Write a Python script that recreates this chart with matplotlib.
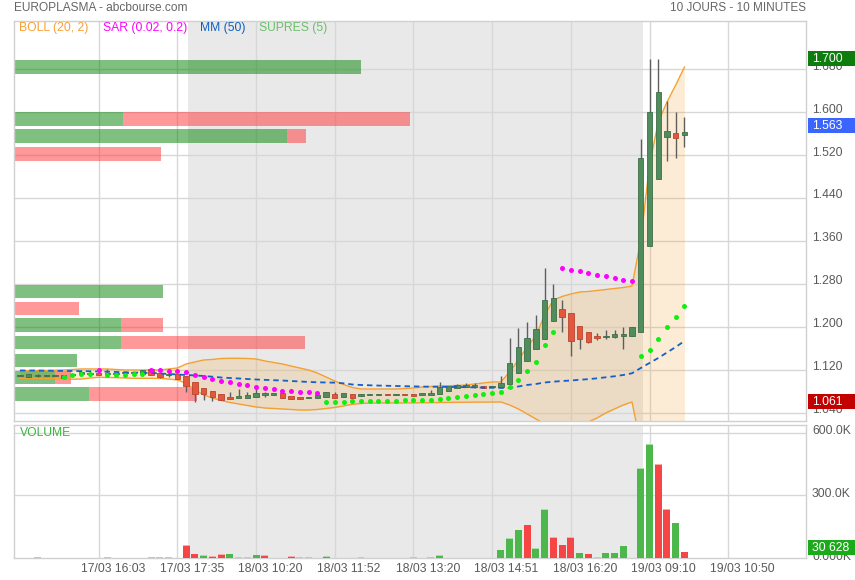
import numpy as np
import matplotlib
matplotlib.use('Agg')
import matplotlib.pyplot as plt
from matplotlib.transforms import blended_transform_factory as blend
from matplotlib.patches import Rectangle

plt.rcParams['font.family'] = ['Liberation Sans', 'DejaVu Sans']

#------------------------------------------------------------------------#
# Data (10 minute candles)
#------------------------------------------------------------------------#
candle_open = [1.109, 1.107, 1.110, 1.109, 1.110, 1.1045, 1.110, 1.1126, 1.114, 1.115,
               1.1139, 1.113, 1.115, 1.115, 1.1126, 1.1213, 1.115, 1.112, 1.1126, 1.1088,
               1.0977, 1.0859, 1.0809, 1.0753, 1.0703, 1.0684, 1.0684, 1.0703, 1.0753, 1.0735,
               1.0766, 1.0722, 1.0692, 1.0673, 1.0684, 1.0703, 1.0748, 1.0703, 1.0748, 1.0716,
               1.0729, 1.0729, 1.0759, 1.0735, 1.0759, 1.0748, 1.0740, 1.0740, 1.0753, 1.0815,
               1.0859, 1.0889, 1.0878, 1.0908, 1.0889, 1.0889, 1.0934, 1.1139, 1.1373, 1.1585,
               1.1772, 1.2118, 1.2336, 1.2261, 1.2014, 1.1908, 1.1839, 1.1809, 1.1809, 1.1833,
               1.1839, 1.1913, 1.3515, 1.4751, 1.5544, 1.5613, 1.5570]
candle_high = [1.110, 1.112, 1.1126, 1.110, 1.110, 1.110, 1.1125, 1.120, 1.115, 1.115,
               1.1213, 1.114, 1.115, 1.115, 1.120, 1.1213, 1.115, 1.1168, 1.1126, 1.1088,
               1.0977, 1.0859, 1.0809, 1.0753, 1.0796, 1.0846, 1.0785, 1.0846, 1.0796, 1.0766,
               1.0766, 1.0722, 1.0692, 1.0703, 1.0735, 1.0785, 1.0785, 1.0766, 1.0748, 1.0748,
               1.0759, 1.0759, 1.0759, 1.0759, 1.0759, 1.0748, 1.0777, 1.0828, 1.0977, 1.0902,
               1.0939, 1.0964, 1.0952, 1.0908, 1.0902, 1.1088, 1.1790, 1.1982, 1.2099, 1.2224,
               1.3105, 1.2801, 1.2503, 1.2261, 1.2014, 1.1908, 1.1883, 1.1945, 1.1945, 1.1995,
               1.1995, 1.5502, 1.7000, 1.6990, 1.6209, 1.6004, 1.5911]
candle_low = [1.108, 1.107, 1.1076, 1.109, 1.110, 1.1045, 1.110, 1.1126, 1.113, 1.110,
              1.1107, 1.113, 1.115, 1.115, 1.1126, 1.110, 1.1045, 1.1075, 1.1032, 1.0796,
              1.061, 1.0641, 1.0628, 1.0641, 1.066, 1.0673, 1.0684, 1.0703, 1.0703, 1.0735,
              1.0673, 1.0654, 1.0654, 1.0673, 1.0684, 1.0703, 1.0684, 1.0703, 1.0684, 1.0716,
              1.0729, 1.0729, 1.0735, 1.0735, 1.0735, 1.0722, 1.0740, 1.0740, 1.0753, 1.0815,
              1.0859, 1.0889, 1.0870, 1.0870, 1.0889, 1.0889, 1.0934, 1.1139, 1.1373, 1.1585,
              1.1772, 1.2118, 1.1902, 1.1466, 1.1597, 1.1708, 1.1759, 1.1777, 1.1790, 1.1585,
              1.1839, 1.1913, 1.3515, 1.4751, 1.5098, 1.5153, 1.5358]
candle_close = [1.109, 1.112, 1.110, 1.1095, 1.110, 1.110, 1.1125, 1.1168, 1.114, 1.110,
                1.1139, 1.114, 1.115, 1.115, 1.120, 1.110, 1.1075, 1.112, 1.1032, 1.0902,
                1.0748, 1.0748, 1.0692, 1.0641, 1.066, 1.0722, 1.0735, 1.0766, 1.0753, 1.0766,
                1.0673, 1.0654, 1.0654, 1.0703, 1.0735, 1.0785, 1.0684, 1.0766, 1.0684, 1.0748,
                1.0759, 1.0759, 1.0735, 1.0759, 1.0735, 1.0722, 1.0777, 1.0777, 1.0878, 1.0902,
                1.0921, 1.0926, 1.0921, 1.0870, 1.0902, 1.0964, 1.1325, 1.1623, 1.1790, 1.1963,
                1.2503, 1.2535, 1.2192, 1.1746, 1.1783, 1.1727, 1.1796, 1.1833, 1.1870, 1.1870,
                1.1995, 1.5153, 1.6004, 1.6371, 1.5651, 1.5526, 1.5630]

# volume in thousands, g = green bar, r = red bar
volume_k = [1, 0, 6, 0, 0, 2, 1, 1, 1, 1,
            6, 0, 1, 0, 1, 6, 3, 6, 0, 62,
            21, 13, 11, 17, 21, 3, 3, 16, 13, 2,
            1, 8, 3, 3, 0, 8, 2, 0, 1, 4,
            0, 2, 1, 2, 2, 4, 2, 4, 14, 1,
            1, 0, 1, 0, 1, 40, 96, 136, 160, 49,
            233, 102, 64, 102, 26, 21, 6, 26, 26, 59,
            1, 429, 545, 449, 232, 169, 30.628]
volume_side = ("rgrgggggrr" "ggrggrrggr" "rgrrggggrg" "rrggggrgrg" "ggrggrgrgr"
               "ggrgggggrg" "grrrgrgggg" "gggrrgr")

boll_upper = [1.1187, 1.1187, 1.1191, 1.1191, 1.1194, 1.1200, 1.1209, 1.1219, 1.1219, 1.1219,
              1.1219, 1.1209, 1.1200, 1.1200, 1.1200, 1.1200, 1.1200, 1.1219, 1.1237, 1.1312,
              1.1349, 1.1386, 1.1396, 1.1414, 1.1418, 1.1418, 1.1414, 1.1405, 1.1368, 1.1340,
              1.1312, 1.1274, 1.1237, 1.1200, 1.1144, 1.1070, 1.0995, 1.0930, 1.0874, 1.0846,
              1.0846, 1.0846, 1.0846, 1.0846, 1.0856, 1.0865, 1.0883, 1.0893, 1.0902, 1.0908,
              1.0911, 1.0921, 1.0939, 1.0958, 1.0977, 1.0977, 1.1163, 1.1386, 1.1628, 1.1833,
              1.2224, 1.2503, 1.2569, 1.2615, 1.2652, 1.2662, 1.2680, 1.2699, 1.2718, 1.2736,
              1.2764, 1.3621, 1.5017, 1.5818, 1.6190, 1.6507, 1.6842]
boll_lower = [1.1045, 1.1045, 1.1045, 1.1042, 1.1042, 1.1036, 1.1027, 1.1032, 1.1051, 1.1064,
              1.1060, 1.1057, 1.1051, 1.1045, 1.1045, 1.1045, 1.1042, 1.1032, 1.1014, 1.0952,
              1.0828, 1.0735, 1.0679, 1.0632, 1.0595, 1.0567, 1.0539, 1.0511, 1.0492, 1.0483,
              1.0474, 1.0464, 1.0455, 1.0455, 1.0464, 1.0483, 1.0502, 1.0530, 1.0561, 1.0576,
              1.0583, 1.0586, 1.0586, 1.0586, 1.0586, 1.0588, 1.0590, 1.0592, 1.0594, 1.0596,
              1.0598, 1.0600, 1.0601, 1.0602, 1.0603, 1.0604, 1.0548, 1.0474, 1.0381, 1.0288,
              1.0194, 1.0139, 1.0120, 1.0139, 1.0176, 1.0232, 1.0306, 1.0399, 1.0474, 1.0548,
              1.0604, 0.9800, 0.9300, 0.9200, 0.9300, 0.9400, 0.9500]

mm50 = [1.1191, 1.1191, 1.1189, 1.1187, 1.1185, 1.1183, 1.1181, 1.1179, 1.1176, 1.1172,
        1.1168, 1.1163, 1.1158, 1.1153, 1.1148, 1.1144, 1.1135, 1.1126, 1.1116, 1.1107,
        1.1098, 1.1088, 1.1075, 1.1060, 1.1051, 1.1042, 1.1032, 1.1023, 1.1016, 1.1010,
        1.1004, 1.0995, 1.0986, 1.0977, 1.0971, 1.0967, 1.0964, 1.0952, 1.0930, 1.0921,
        1.0915, 1.0910, 1.0906, 1.0902, 1.0898, 1.0895, 1.0891, 1.0889, 1.0887, 1.0885,
        1.0883, 1.0880, 1.0876, 1.0872, 1.0869, 1.0867, 1.0865, 1.0893, 1.0921, 1.0939,
        1.0967, 1.0982, 1.0995, 1.1004, 1.1018, 1.1029, 1.1045, 1.1064, 1.1083, 1.1107,
        1.1139, 1.1237, 1.1330, 1.1423, 1.1526, 1.1628, 1.1740]

nan = np.nan
sar = [nan, nan, nan, nan, nan, 1.1075, 1.1107, 1.1120, 1.1120, 1.1200,
       1.1107, 1.1107, 1.1107, 1.1120, 1.1131, 1.1200, 1.1200, 1.1187, 1.1187, 1.1168,
       1.1107, 1.1070, 1.1032, 1.1001, 1.0982, 1.0939, 1.0921, 1.0889, 1.0865, 1.0841,
       1.0815, 1.0809, 1.0796, 1.0785, 1.0772, 1.0610, 1.0610, 1.0610, 1.0628, 1.0628,
       1.0628, 1.0628, 1.0628, 1.0628, 1.0647, 1.0647, 1.0647, 1.0647, 1.0666, 1.0679,
       1.0697, 1.0721, 1.0740, 1.0759, 1.0777, 1.0796, 1.0889, 1.1019, 1.1187, 1.1355,
       1.1671, 1.1913, 1.3105, 1.3068, 1.3049, 1.3006, 1.2975, 1.2956, 1.2919, 1.2881,
       1.2857, 1.1466, 1.1578, 1.1783, 1.2001, 1.2192, 1.2397]

# SUPRES (5): volume by price level, thousands
supres_price = [1.6842, 1.5874, 1.5557, 1.5231, 1.2662, 1.2345, 1.2029, 1.1712, 1.1377, 1.1060, 1.0744]
supres_buy = [868, 273, 683, 0, 373, 0, 268, 268, 158, 103, 188]
supres_sell = [0, 718, 48, 368, 0, 163, 104, 460, 0, 40, 270]

price_ticks = [1.040, 1.120, 1.200, 1.280, 1.360, 1.440, 1.520, 1.600, 1.680]
time_labels = ['17/03 16:03', '17/03 17:35', '18/03 10:20', '18/03 11:52', '18/03 13:20',
               '18/03 14:51', '18/03 16:20', '19/03 09:10', '19/03 10:50']

#------------------------------------------------------------------------#
# Layout
#------------------------------------------------------------------------#
W, H = 855, 580
def fx(p): return p / W
def fy(p): return 1 - p / H

fig = plt.figure(figsize=(W / 100, H / 100), dpi=100)
fig.patch.set_facecolor('white')
ax = fig.add_axes([fx(14), fy(421), fx(806) - fx(14), fy(20.7) - fy(421)])
axv = fig.add_axes([fx(14), fy(558), fx(806) - fx(14), fy(425) - fy(558)])

idx = np.arange(len(candle_close))
o = np.array(candle_open); h = np.array(candle_high)
l = np.array(candle_low); c = np.array(candle_close)
xmin, xmax = -0.69, 89.9
grid_x = np.arange(9, 82, 9)
gray = '#e9e9e9'
gridc = '#d7d7d7'
txtc = '#5a5a5a'

for a in (ax, axv):
    a.set_xlim(xmin, xmax)
    a.set_xticks([]); a.set_yticks([])
    for s in a.spines.values():
        s.set_color('#d0d0d0'); s.set_linewidth(1)
    a.axvspan(19.2, 71.2, color=gray, lw=0, zorder=0)
    for gx in grid_x:
        a.axvline(gx, color=gridc, lw=1, zorder=0.5)

ax.set_ylim(1.025, 1.7705)
axv.set_ylim(0, 636)
for p in price_ticks:
    ax.axhline(p, color=gridc, lw=1, zorder=0.5)
for v in (300, 600):
    axv.axhline(v, color=gridc, lw=1, zorder=0.5)

# bollinger
ax.fill_between(idx, boll_lower, boll_upper, color='#f5a030', alpha=0.2, lw=0, zorder=1)
ax.plot(idx, boll_upper, color='#f5a030', lw=1, zorder=2)
ax.plot(idx, boll_lower, color='#f5a030', lw=1, zorder=2)

# volume by price
span_k = 1980.0
unit = (xmax - xmin) / span_k
buy_w = np.array(supres_buy) * unit
sell_w = np.array(supres_sell) * unit
ax.barh(supres_price, buy_w, height=0.026, left=xmin, color='#008000', alpha=0.5, lw=0, zorder=1.5)
ax.barh(supres_price, sell_w, height=0.026, left=xmin + buy_w, color='#ff3333', alpha=0.5, lw=0, zorder=1.5)

# candles
up = c >= o
body_c = np.where(up, '#4f8d5c', '#e4573f')
edge_c = np.where(up, '#3d6e48', '#b8452f')
min_h = 0.0022
body_h = np.maximum(np.abs(c - o), min_h)
body_b = np.where(np.abs(c - o) < min_h, (o + c) / 2 - min_h / 2, np.minimum(o, c))
ax.vlines(idx, l, h, color='#5e5e5e', lw=1, zorder=3)
ax.bar(idx, body_h, bottom=body_b, width=0.62, color=body_c, edgecolor=edge_c, lw=0.6, zorder=4)

# moving average
ax.plot(idx, mm50, color='#1560c8', lw=1.3, ls=(0, (3, 2.2)), zorder=5)

# parabolic SAR
sar_a = np.array(sar)
above = sar_a > c
ax.plot(idx[above], sar_a[above], 'o', color='#ff00ff', ms=3.6, mew=0, zorder=6)
ax.plot(idx[~above], sar_a[~above], 'o', color='#11ee11', ms=3.6, mew=0, zorder=6)

# volume bars
vol = np.array(volume_k, dtype=float)
vcol = ['#4cb84c' if s == 'g' else '#f54545' for s in volume_side]
vcap = ['#a8dca8' if s == 'g' else '#ffaaaa' for s in volume_side]
axv.bar(idx, vol, width=0.8, color=vcol, lw=0, zorder=3)
cap = np.minimum(vol, 4)
axv.bar(idx, cap, bottom=vol - cap, width=0.8, color=vcap, lw=0, zorder=3.5)

#------------------------------------------------------------------------#
# Texts
#------------------------------------------------------------------------#
fs = 8.7
fig.text(fx(14), fy(8), 'EUROPLASMA - abcbourse.com', color='#666666', fontsize=8.6, va='center')
fig.text(fx(806), fy(8), '10 JOURS - 10 MINUTES', color='#666666', fontsize=8.5, va='center', ha='right')

fig.text(fx(19.3), fy(28.3), 'BOLL (20, 2)', color='#f7a035', fontsize=fs, va='center')
fig.text(fx(103.3), fy(28.3), 'SAR (0.02, 0.2)', color='#ff00ff', fontsize=fs, va='center')
fig.text(fx(200), fy(28.3), 'MM (50)', color='#1060c0', fontsize=fs, va='center')
fig.text(fx(259.3), fy(28.3), 'SUPRES (5)', color='#6cbf6c', fontsize=fs, va='center')
fig.text(fx(20), fy(433), 'VOLUME', color='#3cb43c', fontsize=fs, va='center')

tr = blend(ax.transAxes, ax.transData)
lab_x = (812 - 14) / 792
for p in price_ticks:
    ax.text(lab_x, p + 0.005, '%.3f' % p, transform=tr, color=txtc, fontsize=fs, va='center', clip_on=False)

def price_box(a, trans, y, hgt, text, fc):
    a.add_patch(Rectangle((1.0025, y - hgt / 2), 0.07, hgt, transform=trans, fc=fc, ec='none',
                          clip_on=False, zorder=10))
    a.text(lab_x, y, text, transform=trans, color='white', fontsize=fs, va='center',
           clip_on=False, zorder=11)

last_close = c[-1]
price_box(ax, tr, h.max(), 0.028, '%.3f' % h.max(), '#0e7d0e')
price_box(ax, tr, last_close + 0.012, 0.028, '%.3f' % last_close, '#3a66ff')
price_box(ax, tr, l.min(), 0.028, '%.3f' % l.min(), '#c20000')

trv = blend(axv.transAxes, axv.transData)
for v, s in ((600, '600.0K'), (300, '300.0K'), (0, '0.000K')):
    axv.text(lab_x, v + 5, s, transform=trv, color=txtc, fontsize=fs, va='center', clip_on=False)
last_vol = vol[-1]
price_box(axv, trv, last_vol + 17.6, 72, '30 628', '#1aaa1a')

trx = blend(axv.transData, axv.transAxes)
for gx, s in zip(grid_x, time_labels):
    axv.text(gx + 1.64, -0.083, s, transform=trx, color=txtc, fontsize=fs, ha='center', va='center',
             clip_on=False)

plt.savefig('out.png', dpi=100)
